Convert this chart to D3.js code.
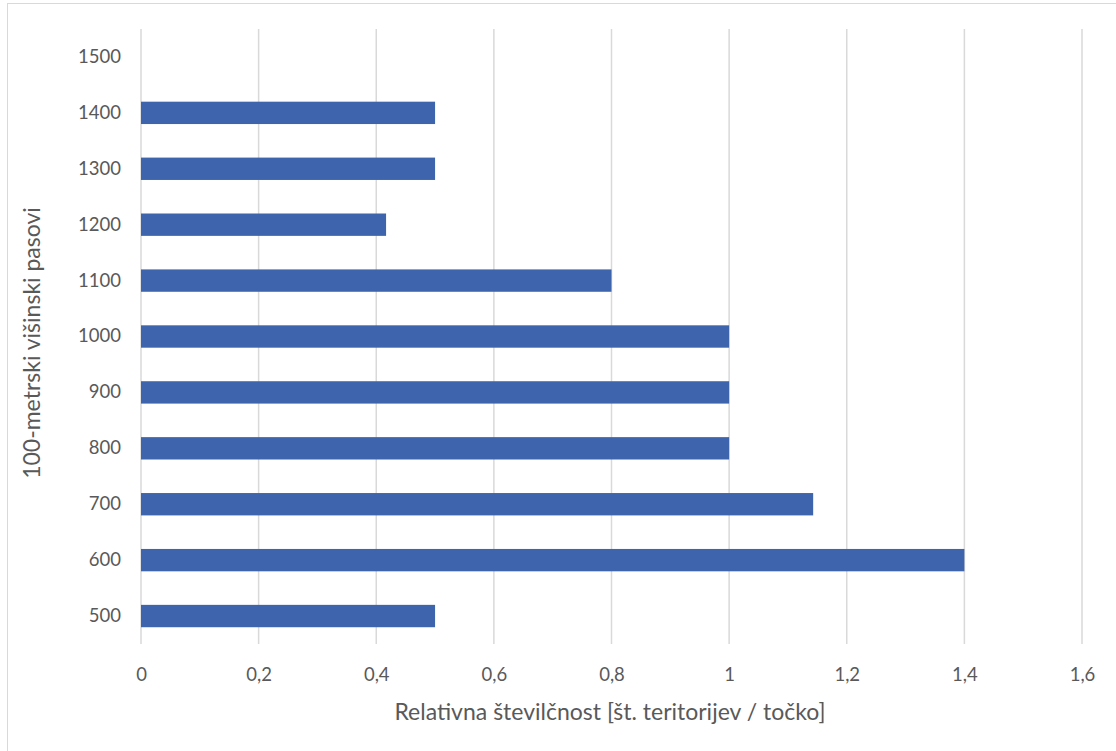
<!DOCTYPE html>
<html>
<head>
<meta charset="utf-8">
<script src="https://cdn.jsdelivr.net/npm/d3@7"></script>
<style>
  html, body { margin: 0; padding: 0; background: #fff; }
  svg { display: block; }
  text { font-family: Lato, "Open Sans", "Noto Sans", sans-serif; fill: #595959; }
</style>
</head>
<body>
<svg id="chart" width="1116" height="751"></svg>
<script>
// Altitude bands (100 m) and relative abundance per band
const bands = ["500", "600", "700", "800", "900", "1000", "1100", "1200", "1300", "1400", "1500"];
const abundance = [0.5, 1.4, 1.1429, 1, 1, 1, 0.8, 0.4167, 0.5, 0.5, 0];
const xTicks = [0, 0.2, 0.4, 0.6, 0.8, 1, 1.2, 1.4, 1.6];
const xTitle = "Relativna številčnost [št. teritorijev / točko]";
const yTitle = "100-metrski višinski pasovi";

const svg = d3.select("#chart");
const W = 1116, H = 751;
const plot = { left: 141, right: 1082, top: 29, bottom: 644 };

// outer chart frame
svg.append("rect")
  .attr("x", 7.5).attr("y", 3.5)
  .attr("width", W + 10).attr("height", H + 10)
  .attr("fill", "none").attr("stroke", "#d9d9d9").attr("stroke-width", 1);

const x = d3.scaleLinear().domain([0, 1.6]).range([plot.left, plot.right]);
const y = d3.scaleBand().domain(bands.slice().reverse())
  .range([plot.top, plot.bottom]).paddingInner(0.6).paddingOuter(0.3);

// vertical gridlines
svg.append("g").selectAll("line").data(xTicks).join("line")
  .attr("x1", d => x(d)).attr("x2", d => x(d))
  .attr("y1", plot.top).attr("y2", plot.bottom)
  .attr("stroke", "#d9d9d9").attr("stroke-width", 1.5);

// bars
svg.append("g").selectAll("rect").data(bands).join("rect")
  .attr("x", x(0))
  .attr("y", d => y(d))
  .attr("width", (d, i) => x(abundance[i]) - x(0))
  .attr("height", y.bandwidth())
  .attr("fill", "#3e64ad");

// x axis labels
const fmt = d => String(d).replace(".", ",");
const xAxis = svg.append("g")
  .attr("transform", `translate(0,${plot.bottom})`)
  .call(d3.axisBottom(x).tickValues(xTicks).tickFormat(fmt).tickSize(0).tickPadding(24));
xAxis.select(".domain").remove();
xAxis.selectAll("text").attr("font-size", 18.5).style("fill", "#595959")
  .style("font-family", 'Lato, "Open Sans", sans-serif');

// y axis labels
const yAxis = svg.append("g")
  .attr("transform", `translate(${plot.left},0)`)
  .call(d3.axisLeft(y).tickSize(0).tickPadding(20));
yAxis.select(".domain").remove();
yAxis.selectAll("text").attr("font-size", 18.5).style("fill", "#595959")
  .style("font-family", 'Lato, "Open Sans", sans-serif');

// axis titles
svg.append("text")
  .attr("x", 610).attr("y", 720)
  .attr("text-anchor", "middle").attr("font-size", 23)
  .text(xTitle);

svg.append("text")
  .attr("transform", `translate(40,343) rotate(-90)`)
  .attr("text-anchor", "middle").attr("font-size", 23)
  .text(yTitle);
</script>
</body>
</html>
